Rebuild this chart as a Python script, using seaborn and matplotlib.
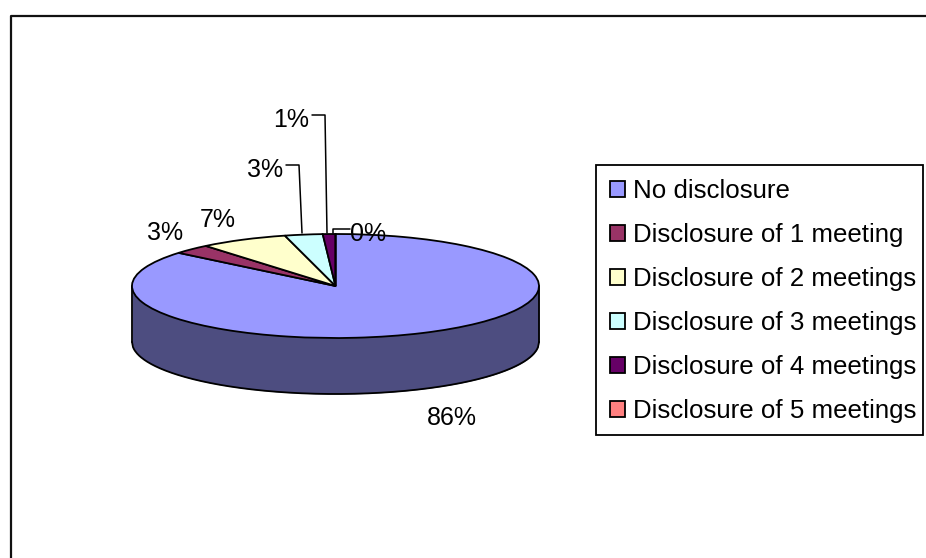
import matplotlib
matplotlib.use("Agg")
import matplotlib.pyplot as plt
import numpy as np
import seaborn as sns
from matplotlib.patches import Rectangle

categories = ["No disclosure", "Disclosure of 1 meeting", "Disclosure of 2 meetings",
              "Disclosure of 3 meetings", "Disclosure of 4 meetings", "Disclosure of 5 meetings"]
shares = [86, 3, 7, 3, 1, 0]
share_labels = ["86%", "3%", "7%", "3%", "1%", "0%"]
top_colors = ["#9999FF", "#993366", "#FFFFCC", "#CCFFFF", "#660066", "#FF8080"]
side_color = "#4D4D80"

sns.set_theme(style="white")
plt.rcParams["font.family"] = ["Liberation Sans", "DejaVu Sans"]

W, H = 926, 558
FS = 18.0
LEG_FS = 18.6
LW = 1.3
fig = plt.figure(figsize=(W / 100, H / 100), dpi=100, facecolor="white")

# overlay in pixel coordinates for frame, labels and leader lines
ov = fig.add_axes([0, 0, 1, 1], zorder=3)
ov.set_xlim(0, W)
ov.set_ylim(H, 0)
ov.axis("off")
ov.patch.set_alpha(0)

# pie axes: ellipse 132..539 x 234..338, depth 56 px
cx0, cx1, top, mid_bot, depth_px = 132, 539, 234, 338, 56
ry = (mid_bot - top) / 2
depth = depth_px / ry
ax = fig.add_axes([cx0 / W, 1 - (mid_bot + depth_px + 4) / H, (cx1 - cx0) / W,
                   (mid_bot + depth_px + 4 - top) / H], zorder=2)
edge = dict(edgecolor="black", linewidth=LW)
wedges, _ = ax.pie(shares, colors=top_colors, startangle=90, counterclock=False,
                   wedgeprops=dict(edge, clip_on=False, zorder=5))
ax.set_aspect("auto")
ax.set_xlim(-1, 1)
ax.set_ylim(-1 - depth - 4 / ry, 1)

# side wall of the cylinder
t = np.linspace(-1, 1, 401)
arc = -depth - np.sqrt(1 - t ** 2)
ax.fill_between(t, 0, arc, color=side_color, lw=0, zorder=2)
ax.plot(t, arc, color="black", lw=LW, zorder=3, clip_on=False)
ax.plot([-1, -1], [-depth, 0], color="black", lw=LW, zorder=3, clip_on=False)
ax.plot([1, 1], [-depth, 0], color="black", lw=LW, zorder=3, clip_on=False)

# outer frame (runs off the right and bottom edges)
ov.plot([10.5, 10.5, W + 5], [H + 5, 15.5, 15.5], color="#111111", lw=1.6, clip_on=False)

# data labels
label_xy = [(451.5, 418), (165, 233), (218, 220), (265, 170), (291, 120), (368, 234)]
for s, (x, y) in zip(share_labels, label_xy):
    ov.text(x, y, s, ha="center", va="center", fontsize=FS, color="black", zorder=8)

# leader lines
leaders = [([312, 325, 327], [115, 115, 233]),
           ([286, 299, 302], [165, 165, 233]),
           ([333, 333, 350], [233, 229, 229])]
for xs, ys in leaders:
    ov.plot(xs, ys, color="black", lw=1.1, zorder=7)

# legend box and entries
ov.add_patch(Rectangle((596, 165), 327, 270, facecolor="white", edgecolor="black", lw=LW, zorder=5))
leg = ov.legend(wedges, categories, loc="upper left",
                bbox_to_anchor=(596 / W, 1 - 165 / H), bbox_transform=fig.transFigure,
                fontsize=LEG_FS, frameon=False,
                handlelength=0.56, handleheight=0.56, handletextpad=0.31,
                labelspacing=0.77, borderpad=0.56, borderaxespad=0, labelcolor="black")
leg.set_zorder(6)

fig.savefig("out.png", dpi=100)
